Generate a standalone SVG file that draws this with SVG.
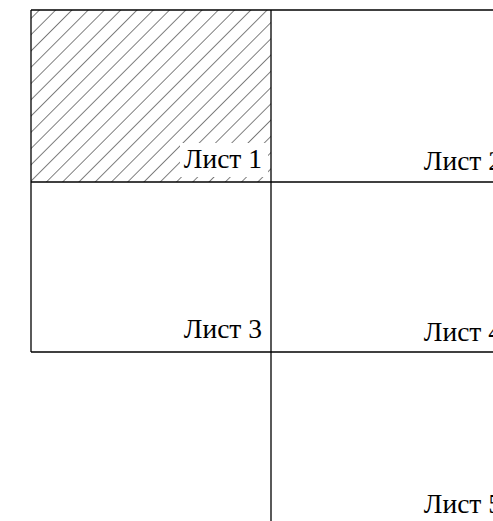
<svg xmlns="http://www.w3.org/2000/svg" width="493" height="521" viewBox="0 0 493 521">
<defs>
<pattern id="hatch" patternUnits="userSpaceOnUse" width="11.5" height="20" patternTransform="rotate(45)">
<line x1="0" y1="-2" x2="0" y2="22" stroke="#000" stroke-width="1"/>
</pattern>
</defs>
<style>
.ln{stroke:#000;stroke-width:1.3;fill:none}
.lbl{font-family:"Liberation Serif","Times New Roman",serif;font-size:27.5px;fill:#000;text-anchor:end}
</style>
<rect width="493" height="521" fill="#fff"/>
<g id="sheet1">
<rect x="31" y="10" width="240" height="172" fill="url(#hatch)"/>
<rect x="180" y="143" width="88" height="34" fill="#fff"/>
<text class="lbl" x="262" y="168">Лист 1</text>
</g>
<g id="sheet2">
<text class="lbl" x="502" y="170">Лист 2</text>
</g>
<g id="sheet3">
<text class="lbl" x="262" y="338">Лист 3</text>
</g>
<g id="sheet4">
<text class="lbl" x="502" y="341">Лист 4</text>
</g>
<g id="sheet5">
<text class="lbl" x="502" y="513">Лист 5</text>
</g>
<g id="connectors">
<line class="ln" x1="31" y1="10" x2="493" y2="10"/>
<line class="ln" x1="31" y1="182" x2="493" y2="182"/>
<line class="ln" x1="31" y1="352" x2="493" y2="352"/>
<line class="ln" x1="31" y1="10" x2="31" y2="352"/>
<line class="ln" x1="271" y1="10" x2="271" y2="521"/>
</g>
</svg>
